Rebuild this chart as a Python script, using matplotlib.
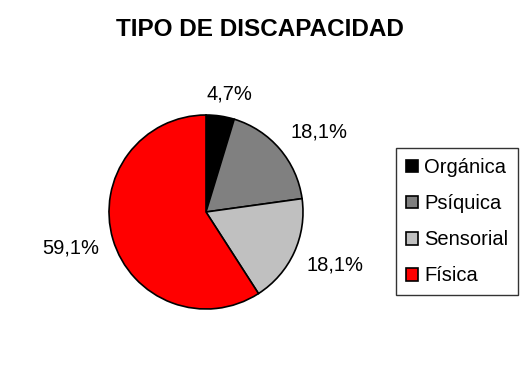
import numpy as np
import matplotlib
matplotlib.use('Agg')
import matplotlib.pyplot as plt

# Datos del gráfico
categorias = ['Orgánica', 'Psíquica', 'Sensorial', 'Física']
porcentajes = [4.7, 18.1, 18.1, 59.1]
etiquetas = ['4,7%', '18,1%', '18,1%', '59,1%']
colores = ['#000000', '#808080', '#C0C0C0', '#FF0000']

plt.rcParams['font.family'] = ['Liberation Sans', 'DejaVu Sans']

W, H = 521, 383
fig = plt.figure(figsize=(W / 100, H / 100), dpi=100)

# Centro y radio del pastel en pixeles
cx, cy, r = 206, 212, 97
ax = fig.add_axes([(cx - r) / W, (H - cy - r) / H, 2 * r / W, 2 * r / H])

wedges, _ = ax.pie(porcentajes, colors=colores, startangle=90, counterclock=False,
                   radius=1, wedgeprops=dict(edgecolor='black', linewidth=1.2))
ax.set_xlim(-1, 1)
ax.set_ylim(-1, 1)
ax.axis('off')

# Etiquetas fuera del pastel, al estilo de Excel
renderer = fig.canvas.get_renderer()
gap = 14  # pixeles entre el borde y la etiqueta
for w, txt in zip(wedges, etiquetas):
    ang = np.deg2rad((w.theta1 + w.theta2) / 2)
    t = ax.text(0, 0, txt, ha='center', va='center', fontsize=14.5, clip_on=False)
    bb = t.get_window_extent(renderer)
    hw, hh = bb.width / 2, 8
    px = (r + gap) * np.cos(ang) + hw * np.clip(2 * np.cos(ang), -1, 1)
    py = (r + gap) * np.sin(ang) + hh * np.clip(2 * np.sin(ang), -1, 1)
    t.set_position((px / r, py / r))

fig.text(260 / W, 1 - 30 / H, 'TIPO DE DISCAPACIDAD', ha='center', va='center',
         fontsize=17.5, fontweight='bold')

leg = fig.legend(wedges, categorias, loc='upper left',
                 bbox_to_anchor=(396 / W, 1 - 148 / H), fontsize=14.5,
                 frameon=True, fancybox=False, shadow=False,
                 handlelength=0.6, handleheight=0.6, handletextpad=0.3,
                 labelspacing=0.85, borderpad=0.5, borderaxespad=0)
leg.get_frame().set_edgecolor('black')
leg.get_frame().set_linewidth(1.0)
for h in leg.legend_handles:
    h.set_linewidth(1.2)

fig.savefig('out.png', dpi=100)
